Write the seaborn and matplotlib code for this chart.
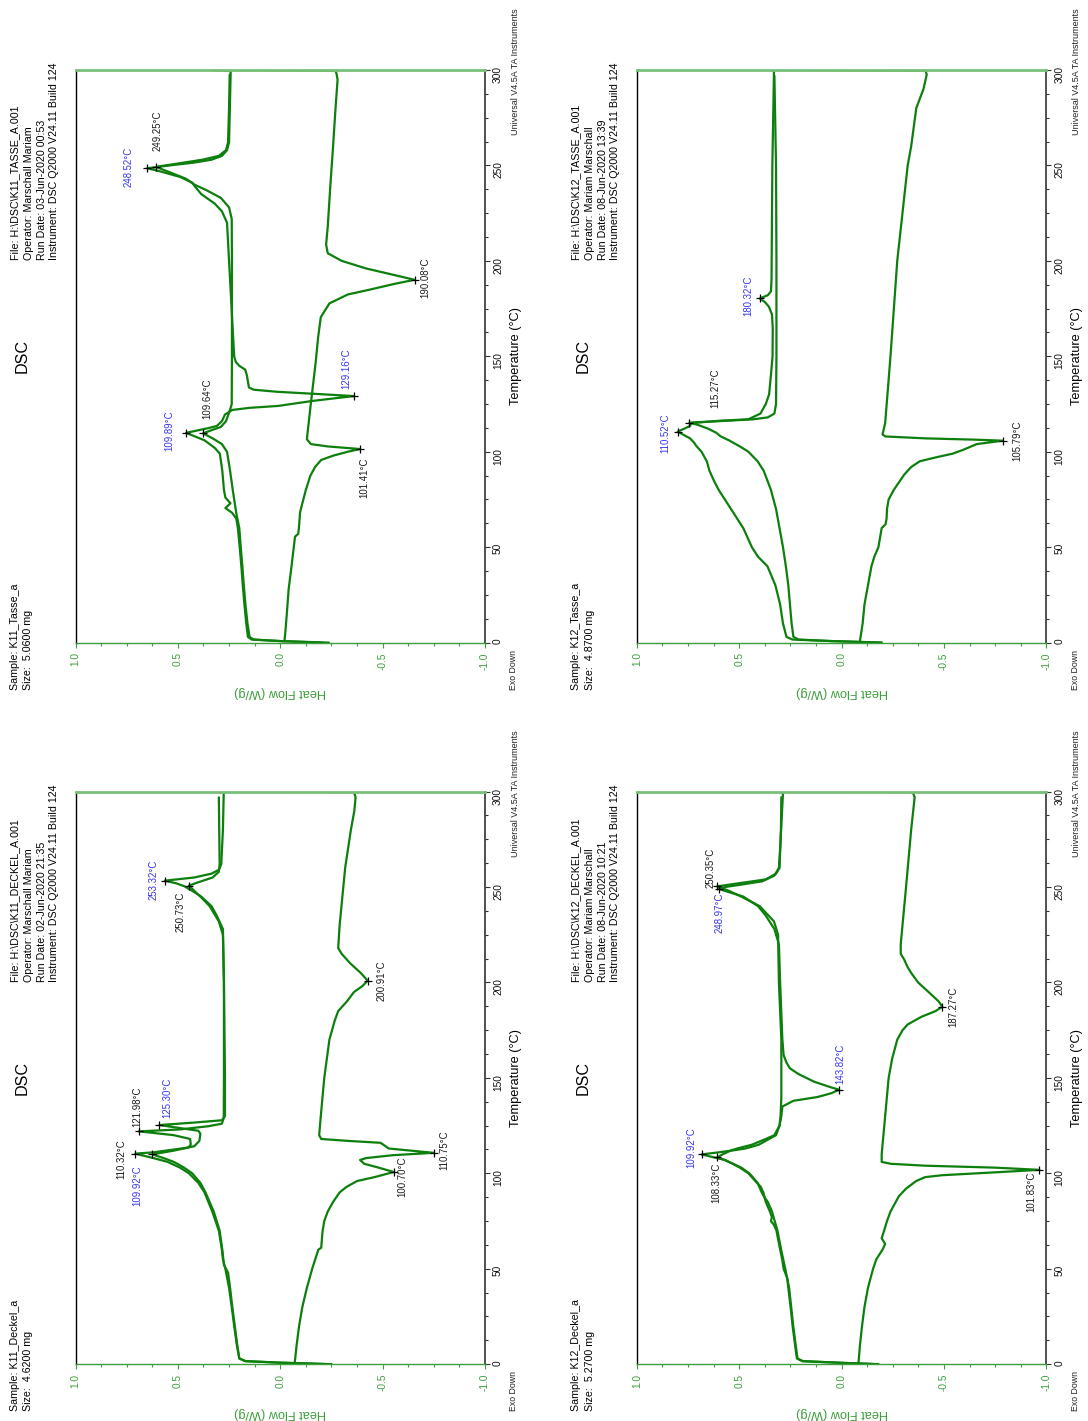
import matplotlib
matplotlib.use("Agg")
import matplotlib.pyplot as plt
import seaborn as sns
from matplotlib.ticker import MultipleLocator, FixedLocator, FixedFormatter

# ---------------------------------------------------------------- data
# K11 Tasse
K11T_H1_T = [0, 0.8, 1.6, 3, 10, 20, 30, 40, 50, 60, 65, 68, 70.5, 73, 76, 80, 90, 99, 102, 106,
             109.89, 112.4, 113.5, 116, 119.5, 121.9, 123, 124, 126.6, 128.3, 129.16, 130.2, 131.4,
             132.5, 133.7, 140, 143, 145, 147, 150, 160, 200, 220, 226, 230, 235, 239, 241, 244,
             247, 248.52, 250, 251.5, 253, 255, 258, 262, 299.5, 300]
K11T_H1_HF = [-0.237, 0.0, 0.14, 0.158, 0.166, 0.175, 0.183, 0.19, 0.198, 0.207, 0.215, 0.235,
              0.268, 0.243, 0.268, 0.275, 0.283, 0.295, 0.32, 0.37, 0.46, 0.35, 0.31, 0.285, 0.27,
              0.234, 0.15, 0.01, -0.156, -0.29, -0.36, -0.19, 0.014, 0.13, 0.153, 0.163, 0.171,
              0.2, 0.217, 0.225, 0.23, 0.25, 0.26, 0.285, 0.32, 0.386, 0.417, 0.43, 0.49, 0.59,
              0.65, 0.54, 0.42, 0.336, 0.285, 0.26, 0.25, 0.242, 0.336]
K11T_H2_T = [0, 0.8, 1.6, 3, 10, 20, 30, 40, 50, 60, 68, 80, 90, 100, 104, 107, 109.64, 111.5,
             113, 116, 119, 122, 125, 150, 200, 222, 228, 233, 237, 240, 243, 246, 249.25, 251,
             253, 255, 258, 262, 280, 297.5]
K11T_H2_HF = [-0.2, 0.0, 0.13, 0.15, 0.16, 0.17, 0.178, 0.185, 0.193, 0.2, 0.215, 0.232, 0.245,
              0.26, 0.285, 0.33, 0.377, 0.33, 0.29, 0.265, 0.255, 0.245, 0.237, 0.236, 0.236,
              0.237, 0.25, 0.29, 0.36, 0.42, 0.46, 0.53, 0.607, 0.5, 0.38, 0.3, 0.265, 0.255,
              0.25, 0.247]
K11T_C_T = [300, 299.7, 298, 295, 280, 260, 240, 218, 208.5, 204, 200, 196, 192, 190.08, 188,
            185, 182.4, 177.7, 170.5, 160, 146.8, 123, 106.5, 104, 102.8, 101.41, 100, 98, 95.7,
            92, 87.4, 80, 75.5, 68.4, 61.3, 57, 55.5, 51.8, 40, 28, 15, 4.3, 0.7]
K11T_C_HF = [0.336, -0.27, -0.275, -0.28, -0.27, -0.258, -0.245, -0.232, -0.224, -0.232, -0.3,
             -0.42, -0.58, -0.656, -0.56, -0.44, -0.33, -0.24, -0.198, -0.185, -0.173, -0.147,
             -0.13, -0.15, -0.23, -0.39, -0.33, -0.26, -0.2, -0.17, -0.147, -0.125, -0.114,
             -0.097, -0.092, -0.088, -0.072, -0.068, -0.055, -0.041, -0.032, -0.024, -0.02]
K11T_PEAK_T = [109.89, 129.16, 248.52, 109.64, 249.25, 101.41, 190.08]
K11T_PEAK_HF = [0.46, -0.36, 0.65, 0.377, 0.607, -0.39, -0.656]
K11T_PEAK_RUN = ["first", "first", "first", "second", "second", "cool", "cool"]

# K12 Tasse
K12T_H1_T = [0, 0.8, 1.6, 3, 10, 20, 30, 40, 45, 50, 60, 70, 80, 85, 90, 95, 100, 103, 105, 107,
             110.52, 112, 113.5, 115, 116.2, 117, 120, 125, 130, 140, 150, 165, 172, 176, 178.5,
             180.32, 182, 184, 190, 220, 250, 280, 299.5, 300]
K12T_H1_HF = [-0.196, 0.05, 0.24, 0.269, 0.286, 0.30, 0.323, 0.362, 0.408, 0.438, 0.48, 0.54,
              0.6, 0.624, 0.645, 0.658, 0.684, 0.709, 0.722, 0.74, 0.80, 0.77, 0.74, 0.735, 0.6,
              0.455, 0.396, 0.37, 0.354, 0.345, 0.337, 0.336, 0.34, 0.355, 0.375, 0.40, 0.36,
              0.345, 0.342, 0.34, 0.338, 0.333, 0.33, 0.345]
K12T_H2_T = [0, 0.8, 1.6, 3, 10, 20, 30, 40, 50, 60, 70, 80, 90, 95, 100, 103, 106, 108, 110,
             112, 114, 115.27, 116, 117, 118, 120, 125, 150, 200, 250, 297]
K12T_H2_HF = [-0.196, 0.05, 0.21, 0.235, 0.244, 0.252, 0.26, 0.272, 0.286, 0.303, 0.32, 0.345,
              0.38, 0.41, 0.455, 0.5, 0.55, 0.59, 0.613, 0.65, 0.70, 0.743, 0.6, 0.43, 0.36,
              0.328, 0.32, 0.318, 0.318, 0.32, 0.328]
K12T_C_T = [300, 299.7, 297.6, 290, 280, 260, 250, 200, 150, 115, 109, 108, 107, 106.3, 105.79,
            104, 101, 99, 97, 95, 92, 88, 80, 75, 70, 65, 62, 60, 55, 50, 45, 40, 30, 20, 10, 1]
K12T_C_HF = [0.345, -0.41, -0.416, -0.4, -0.365, -0.34, -0.323, -0.272, -0.239, -0.213, -0.2,
             -0.215, -0.41, -0.66, -0.788, -0.66, -0.594, -0.543, -0.459, -0.382, -0.34, -0.306,
             -0.255, -0.23, -0.222, -0.22, -0.215, -0.196, -0.188, -0.18, -0.16, -0.146, -0.129,
             -0.112, -0.103, -0.09]
K12T_PEAK_T = [110.52, 180.32, 115.27, 105.79]
K12T_PEAK_HF = [0.80, 0.40, 0.743, -0.788]
K12T_PEAK_RUN = ["first", "first", "second", "cool"]

# K11 Deckel
K11D_H1_T = [0, 0.8, 1.6, 3, 10, 20, 30, 40, 48, 52, 60, 70, 80, 90, 95, 100, 103, 106, 108,
             109.92, 111.9, 114.2, 117, 120.7, 122.3, 125.30, 126.6, 127.8, 130, 150, 200, 228,
             235, 240, 245, 248, 250.5, 252, 253.32, 255, 257, 259, 262, 280, 299.5, 300]
K11D_H1_HF = [-0.25, 0.0, 0.17, 0.2, 0.21, 0.222, 0.234, 0.245, 0.255, 0.275, 0.283, 0.296,
              0.325, 0.365, 0.39, 0.43, 0.47, 0.52, 0.57, 0.625, 0.52, 0.42, 0.395, 0.39, 0.40,
              0.59, 0.42, 0.285, 0.27, 0.27, 0.275, 0.28, 0.31, 0.336, 0.386, 0.43, 0.47, 0.51,
              0.564, 0.42, 0.336, 0.30, 0.288, 0.28, 0.276, 0.344]
K11D_H2_T = [0, 0.8, 1.6, 3, 10, 20, 30, 40, 50, 55, 60, 70, 80, 90, 95, 100, 103, 106, 108,
             110.32, 111, 113.5, 115, 118, 120, 121.98, 123, 124.7, 126, 129, 150, 200, 225, 232,
             240, 245, 248, 250.73, 252.5, 255, 258, 262, 297]
K11D_H2_HF = [-0.25, 0.0, 0.17, 0.2, 0.212, 0.225, 0.237, 0.25, 0.268, 0.28, 0.285, 0.30,
              0.332, 0.37, 0.40, 0.446, 0.49, 0.55, 0.62, 0.708, 0.62, 0.45, 0.437, 0.44, 0.52,
              0.69, 0.49, 0.35, 0.285, 0.276, 0.275, 0.275, 0.28, 0.30, 0.345, 0.39, 0.42, 0.446,
              0.40, 0.33, 0.30, 0.296, 0.30]
K11D_C_T = [300, 299.7, 297, 290, 280, 260, 230, 218, 215, 210, 205, 200.91, 198, 195, 190, 185,
            180, 170, 150, 130, 120, 118, 117, 116, 113, 110.75, 109.5, 108, 107, 105, 103, 100.70,
            98, 96, 93, 90, 85, 80, 75, 70, 65, 61, 60, 50, 40, 30, 20, 10, 1]
K11D_C_HF = [0.344, -0.36, -0.368, -0.362, -0.345, -0.317, -0.29, -0.283, -0.30, -0.342,
             -0.393, -0.427, -0.40, -0.36, -0.325, -0.283, -0.266, -0.24, -0.215, -0.198, -0.19,
             -0.2, -0.33, -0.49, -0.53, -0.749, -0.55, -0.42, -0.39, -0.41, -0.48, -0.554, -0.46,
             -0.376, -0.325, -0.29, -0.258, -0.232, -0.215, -0.207, -0.203, -0.2, -0.186,
             -0.156, -0.13, -0.108, -0.092, -0.08, -0.071]
K11D_PEAK_T = [109.92, 125.30, 253.32, 110.32, 121.98, 250.73, 200.91, 100.70, 110.75]
K11D_PEAK_HF = [0.625, 0.59, 0.564, 0.708, 0.69, 0.446, -0.427, -0.554, -0.749]
K11D_PEAK_RUN = ["first", "first", "first", "second", "second", "second", "cool", "cool", "cool"]

# K12 Deckel
K12D_H1_T = [0, 0.8, 1.6, 3, 10, 20, 30, 40, 45, 50, 55, 60, 70, 73, 75, 77, 80, 85, 90, 93, 95,
             100, 103, 105, 107, 109.92, 111, 112, 113, 115, 118, 120, 125, 130, 135, 138, 140,
             142, 143.82, 145, 148, 152, 155, 158, 162, 170, 200, 220, 228, 235, 240, 245, 248.97,
             250, 251, 253, 256, 260, 270, 299.5, 300]
K12D_H1_HF = [-0.18, 0.02, 0.19, 0.218, 0.227, 0.239, 0.249, 0.26, 0.265, 0.283, 0.29, 0.30,
              0.318, 0.33, 0.345, 0.34, 0.35, 0.37, 0.382, 0.395, 0.413, 0.455, 0.497, 0.531,
              0.57, 0.684, 0.60, 0.531, 0.47, 0.404, 0.354, 0.32, 0.303, 0.294, 0.289, 0.235,
              0.117, 0.049, 0.012, 0.05, 0.134, 0.21, 0.252, 0.269, 0.283, 0.289, 0.30, 0.306,
              0.328, 0.37, 0.408, 0.48, 0.599, 0.57, 0.506, 0.387, 0.328, 0.306, 0.30, 0.286, 0.32]
K12D_H2_T = [0, 0.8, 1.6, 3, 10, 20, 30, 40, 50, 60, 70, 80, 85, 88, 90, 95, 100, 103, 105, 107,
             108.33, 110, 112, 113, 115, 118, 120, 125, 130, 140, 170, 200, 225, 232, 240, 245,
             248, 250.35, 252, 254, 257, 260, 280, 297]
K12D_H2_HF = [-0.18, 0.02, 0.19, 0.215, 0.224, 0.236, 0.246, 0.256, 0.275, 0.295, 0.313, 0.34,
              0.36, 0.38, 0.39, 0.41, 0.45, 0.49, 0.53, 0.57, 0.607, 0.58, 0.54, 0.51, 0.438,
              0.37, 0.328, 0.303, 0.298, 0.294, 0.294, 0.306, 0.31, 0.33, 0.40, 0.49, 0.55, 0.607,
              0.50, 0.37, 0.32, 0.303, 0.296, 0.294]
K12D_C_T = [300, 299.7, 297, 280, 250, 220, 215, 212, 208, 205, 200, 195, 190, 187.27, 185, 182,
            178, 175, 170, 160, 150, 130, 110, 106, 105, 104, 103, 101.83, 101, 99, 98, 96, 92,
            88, 80, 75, 70, 66, 63, 60, 55, 50, 40, 30, 20, 10, 1]
K12D_C_HF = [0.32, -0.348, -0.357, -0.34, -0.315, -0.289, -0.289, -0.306, -0.323, -0.34, -0.374,
             -0.425, -0.475, -0.492, -0.459, -0.39, -0.323, -0.298, -0.272, -0.247, -0.23,
             -0.213, -0.196, -0.196, -0.24, -0.408, -0.746, -0.966, -0.83, -0.49, -0.408,
             -0.365, -0.315, -0.28, -0.239, -0.222, -0.208, -0.196, -0.213, -0.2, -0.17, -0.154,
             -0.129, -0.112, -0.1, -0.09, -0.083]
K12D_PEAK_T = [109.92, 143.82, 248.97, 108.33, 250.35, 187.27, 101.83]
K12D_PEAK_HF = [0.684, 0.012, 0.599, 0.607, 0.607, -0.492, -0.966]
K12D_PEAK_RUN = ["first", "first", "first", "second", "second", "cool", "cool"]

SAMPLES = ["K11_Tasse_a", "K12_Tasse_a", "K11_Deckel_a", "K12_Deckel_a"]
SIZES = ["5.0600 mg", "4.8700 mg", "4.6200 mg", "5.2700 mg"]
FILES = [r"H:\DSC\K11_TASSE_A.001", r"H:\DSC\K12_TASSE_A.001",
         r"H:\DSC\K11_DECKEL_A.001", r"H:\DSC\K12_DECKEL_A.001"]
OPERATORS = ["Marschall Mariam", "Mariam Marschall", "Marschall Mariam", "Mariam Marschall"]
RUN_DATES = ["03-Jun-2020 00:53", "08-Jun-2020 13:39", "02-Jun-2020 21:35", "08-Jun-2020 10:21"]
INSTRUMENT = "DSC Q2000 V24.11 Build 124"

HF_TICKS = [1.0, 0.5, 0.0, -0.5, -1.0]
HF_TICK_LABELS = ["1.0", "0.5", "0.0", "-0.5", "-1.0"]
T_TICKS = [0, 50, 100, 150, 200, 250, 300]

# ---------------------------------------------------------------- layout
# peak label anchors (heat flow, temperature) for each panel, same order as the peak lists
LABEL_POS = {
    "K11T": [(0.544, 111.2), (-0.325, 143.5), (0.739, 249.4), (0.356, 127.8), (0.597, 268.4),
             (-0.41, 86.2), (-0.707, 191.4)],
    "K12T": [(0.861, 109.7), (0.457, 181.9), (0.616, 133.3), (-0.858, 105.9)],
    "K11D": [(0.698, 93.3), (0.55, 139.7), (0.619, 253.7), (0.776, 107.6), (0.70, 134.9),
             (0.488, 237.0), (-0.495, 200.7), (-0.597, 98.1), (-0.80, 111.9)],
    "K12D": [(0.733, 113.3), (0.005, 157.5), (0.597, 236.6), (0.614, 95.2), (0.641, 260.0),
             (-0.545, 187.2), (-0.926, 90.5)],
}

W, H = 1088, 1421
PANEL_W, PANEL_H = 409.5, 572.6
PANEL_ORIGINS = [(75.5, 70.0), (636.8, 70.0), (75.5, 791.6), (636.8, 791.6)]

CURVE_COLOR = "#0d7f0d"
AXIS_GREEN = "#3c9e3c"
TOP_GREEN = "#78c078"
RUN_COLORS = {"first": "#3434f0", "second": "#1a1a1a", "cool": "#1a1a1a"}

sns.set_theme(style="white")
plt.rcParams["font.family"] = ["Liberation Sans", "DejaVu Sans"]
plt.rcParams["axes.unicode_minus"] = False

fig = plt.figure(figsize=(W / 100, H / 100), dpi=100)
fig.patch.set_facecolor("white")


def ftext(x_px, y_px, s, **kw):
    fig.text(x_px / W, 1 - y_px / H, s, **kw)


panels = [
    ("K11T", [(K11T_H1_T, K11T_H1_HF), (K11T_H2_T, K11T_H2_HF), (K11T_C_T, K11T_C_HF)],
     K11T_PEAK_T, K11T_PEAK_HF, K11T_PEAK_RUN),
    ("K12T", [(K12T_H1_T, K12T_H1_HF), (K12T_H2_T, K12T_H2_HF), (K12T_C_T, K12T_C_HF)],
     K12T_PEAK_T, K12T_PEAK_HF, K12T_PEAK_RUN),
    ("K11D", [(K11D_H1_T, K11D_H1_HF), (K11D_H2_T, K11D_H2_HF), (K11D_C_T, K11D_C_HF)],
     K11D_PEAK_T, K11D_PEAK_HF, K11D_PEAK_RUN),
    ("K12D", [(K12D_H1_T, K12D_H1_HF), (K12D_H2_T, K12D_H2_HF), (K12D_C_T, K12D_C_HF)],
     K12D_PEAK_T, K12D_PEAK_HF, K12D_PEAK_RUN),
]

for i, (key, curves, pk_t, pk_hf, pk_run) in enumerate(panels):
    L, TOP = PANEL_ORIGINS[i]
    B = TOP + PANEL_H
    R = L + PANEL_W
    ax = fig.add_axes([L / W, 1 - B / H, PANEL_W / W, PANEL_H / H])
    ax.set_facecolor("white")

    # heat flow runs along the page width (exo down -> right), temperature up the page
    for t_vals, hf_vals in curves:
        sns.lineplot(x=hf_vals, y=t_vals, sort=False, estimator=None, ax=ax,
                     color=CURVE_COLOR, linewidth=1.6, legend=False)

    for t, hf, run, (lx, ly) in zip(pk_t, pk_hf, pk_run, LABEL_POS[key]):
        ax.plot([hf], [t], marker="+", markersize=5.5, markeredgewidth=0.9, color="black")
        ax.text(lx, ly, f"{t:.2f}°C", rotation=90, ha="center", va="center",
                fontsize=6.9, color=RUN_COLORS[run])

    ax.set_xlim(1.0, -1.0)
    ax.set_ylim(0, 300)
    ax.set_xlabel("")
    ax.set_ylabel("")
    ax.grid(False)

    ax.xaxis.set_major_locator(FixedLocator(HF_TICKS))
    ax.xaxis.set_major_formatter(FixedFormatter(HF_TICK_LABELS))
    ax.xaxis.set_minor_locator(MultipleLocator(0.125))
    ax.yaxis.set_major_locator(FixedLocator(T_TICKS))
    ax.yaxis.set_minor_locator(MultipleLocator(12.5))
    ax.yaxis.tick_right()

    ax.tick_params(axis="x", which="both", bottom=True, top=False, direction="out",
                   color=AXIS_GREEN, labelcolor=AXIS_GREEN, labelrotation=90,
                   labelsize=7.3, width=0.8, pad=3.5)
    ax.tick_params(axis="x", which="major", length=3.6)
    ax.tick_params(axis="x", which="minor", length=2.4)
    ax.tick_params(axis="y", which="both", left=False, right=True, labelleft=False,
                   labelright=True, direction="out", color="#333333", labelcolor="#111111",
                   labelrotation=90, labelsize=7.3, width=0.8, pad=2.2)
    ax.tick_params(axis="y", which="major", length=3.6)
    ax.tick_params(axis="y", which="minor", length=2.4)

    for side in ax.spines:
        ax.spines[side].set_visible(True)
    ax.spines["left"].set_color("black")
    ax.spines["left"].set_linewidth(1.0)
    ax.spines["top"].set_color(TOP_GREEN)
    ax.spines["top"].set_linewidth(2.0)
    ax.spines["bottom"].set_color(AXIS_GREEN)
    ax.spines["bottom"].set_linewidth(1.0)
    ax.spines["right"].set_color("#333333")
    ax.spines["right"].set_linewidth(1.2)

    # header block, sample block and axis titles
    ftext(L - 53.8, (TOP + B) / 2, "DSC", rotation=90, ha="center", va="center",
          fontsize=11.6, color="black")
    ftext(L - 60.5, B + 47, f"Sample: {SAMPLES[i]}", rotation=90, ha="center",
          va="bottom", fontsize=7.7, color="black")
    ftext(L - 47.2, B + 47, f"Size:  {SIZES[i]}", rotation=90, ha="center",
          va="bottom", fontsize=7.7, color="black")
    info = [f"File: {FILES[i]}", f"Operator: {OPERATORS[i]}",
            f"Run Date: {RUN_DATES[i]}", f"Instrument: {INSTRUMENT}"]
    for dx, line in zip([-60.5, -46.5, -33.5, -21.5], info):
        ftext(L + dx, TOP + 190, line, rotation=90, ha="center", va="bottom",
              fontsize=7.7, color="black")
    ftext(L + PANEL_W / 2, B + 49, "Heat Flow (W/g)", rotation=180, ha="center",
          va="center", fontsize=9.2, color=AXIS_GREEN)
    ftext(R + 31, (TOP + B) / 2, "Temperature (°C)", rotation=90, ha="center",
          va="center", fontsize=9.2, color="black")
    ftext(R + 30, TOP + 65, "Universal V4.5A TA Instruments", rotation=90, ha="center",
          va="bottom", fontsize=6.5, color="#222222")
    ftext(R + 29, B + 7, "Exo Down", rotation=90, ha="center", va="top",
          fontsize=6.3, color="#222222")

fig.savefig("out.png", dpi=100, facecolor="white")
